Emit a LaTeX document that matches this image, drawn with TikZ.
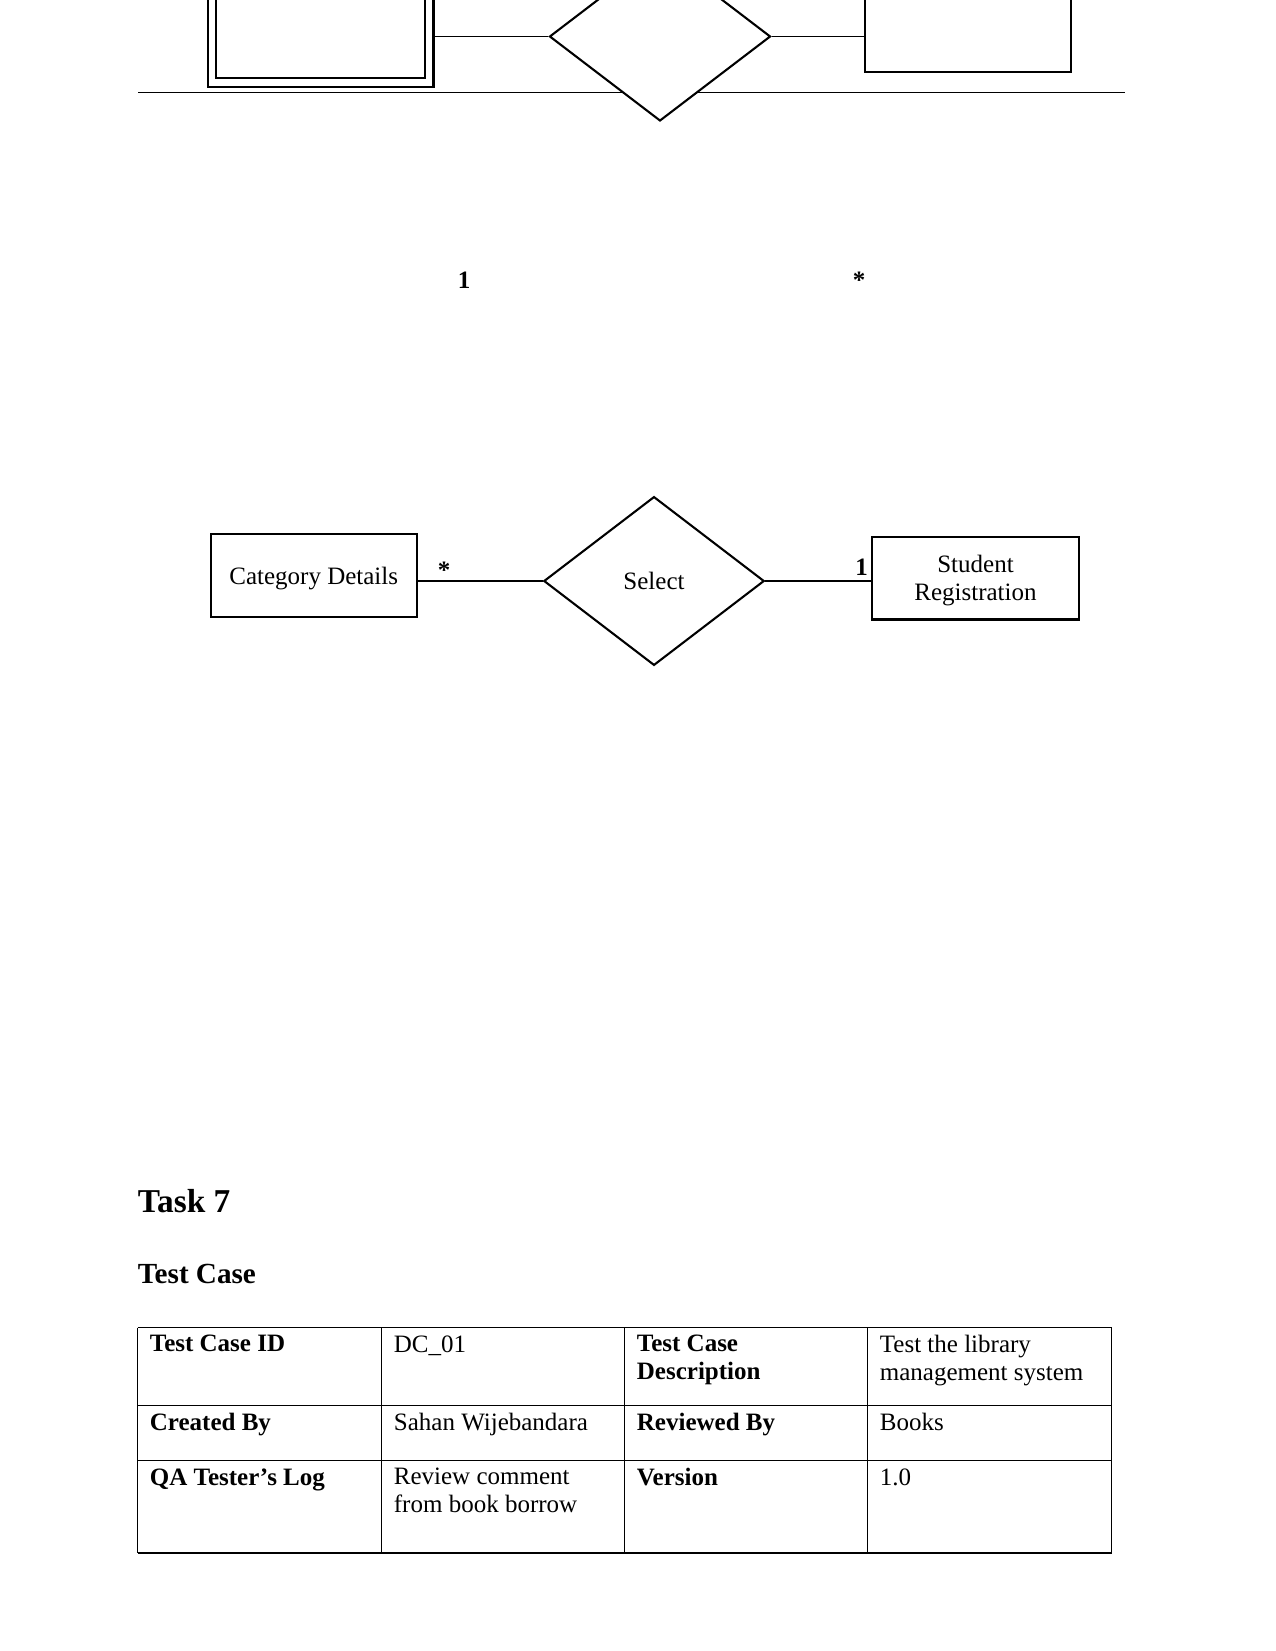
\documentclass[tikz,border=0pt]{standalone}
\usepackage{fontspec}
\setmainfont{Liberation Serif}
\usetikzlibrary{shapes.geometric}

\begin{document}
\begin{tikzpicture}[x=0.48pt, y=-0.48pt,
        entity/.style={draw, line width=1pt, fill=white, minimum width=99pt, minimum height=39.8pt,
            inner sep=0pt, align=center, text depth=0pt, font=\fontsize{12}{13.5}\selectfont},
        relation/.style={draw, diamond, line width=1pt, fill=white, minimum width=105.8pt,
            minimum height=81pt, inner sep=0pt, font=\fontsize{12}{13.5}\selectfont},
        link/.style={line width=0.6pt},
        mult/.style={anchor=base, inner sep=0pt, font=\fontsize{12}{13.5}\selectfont\bfseries},
        cell/.style={anchor=north west, inner sep=0pt, align=left, font=\fontsize{12}{13.3}\selectfont},
        head/.style={cell, font=\fontsize{12}{13.3}\selectfont\bfseries}]
        \clip (0,0) rectangle (1275,1651);

        % Upper diagram, cut by the page edge
        \draw[line width=0.7pt] (138,92.6) -- (1124.5,92.6);
        \node[entity, double, double distance=3.1pt, minimum width=104.2pt, minimum height=44.6pt,
            outer sep=3pt] (topWeak) at (320.7,36) {};
        \node[relation, minimum width=106.1pt, minimum height=81.1pt] (topRel) at (660,36.5) {};
        \node[entity] (topEnt) at (968,31) {};
        \draw[link] (topWeak.east |- topRel.west) -- (topRel.west);
        \draw[link] (topRel.east) -- (topEnt.west |- topRel.east);

        \node[mult] (topOne) at (464,288) {1};
        \node[mult] (topMany) at (859,289) {*};

        % Select relationship
        \node[entity] (cat) at (313.7,575.4) {Category Details};
        \node[relation] (sel) at (654,581) {Select};
        \node[entity] (stud) at (975.5,578) {Student\\Registration};
        \draw[link] (cat.east |- sel.west) -- (sel.west);
        \draw[link] (sel.east) -- (stud.west |- sel.east);
        \node[mult] (catMany) at (444,578.5) {*};
        \node[mult] (studOne) at (861.7,575) {1};

        % Headings
        \node[anchor=base west, inner sep=0pt, font=\fontsize{16}{18}\selectfont\bfseries] (task) at (137.5,1212) {Task 7};
        \node[anchor=base west, inner sep=0pt, font=\fontsize{14}{16}\selectfont\bfseries] (tcase) at (137.5,1283.3) {Test Case};

        % Test case table
        \foreach \x in {137.5,381.3,624.3,867.5,1111.7}
            \draw[line width=0.6pt] (\x,1327.6) -- (\x,1552.9);
        \foreach \y in {1327.6,1405.5,1460.2,1552.9}
            \draw[line width=0.6pt] (137.5,\y) -- (1111.7,\y);

        \node[head] (idH) at (149.5,1335) {Test Case ID};
        \node[cell] (idV) at (393.5,1335) {DC\_01};
        \node[head] (descH) at (636.5,1335) {Test Case\\Description};
        \node[cell] (descV) at (879.5,1335) {Test the library\\management system};
        \node[head] (byH) at (149.5,1413) {Created By};
        \node[cell] (byV) at (393.5,1413) {Sahan Wijebandara};
        \node[head] (revH) at (636.5,1413) {Reviewed By};
        \node[cell] (revV) at (879.5,1413) {Books};
        \node[head] (logH) at (149.5,1468) {QA Tester’s Log};
        \node[cell] (logV) at (393.5,1468) {Review comment\\from book borrow};
        \node[head] (verH) at (636.5,1468) {Version};
        \node[cell] (verV) at (879.5,1468) {1.0};
    \end{tikzpicture}
\end{document}
